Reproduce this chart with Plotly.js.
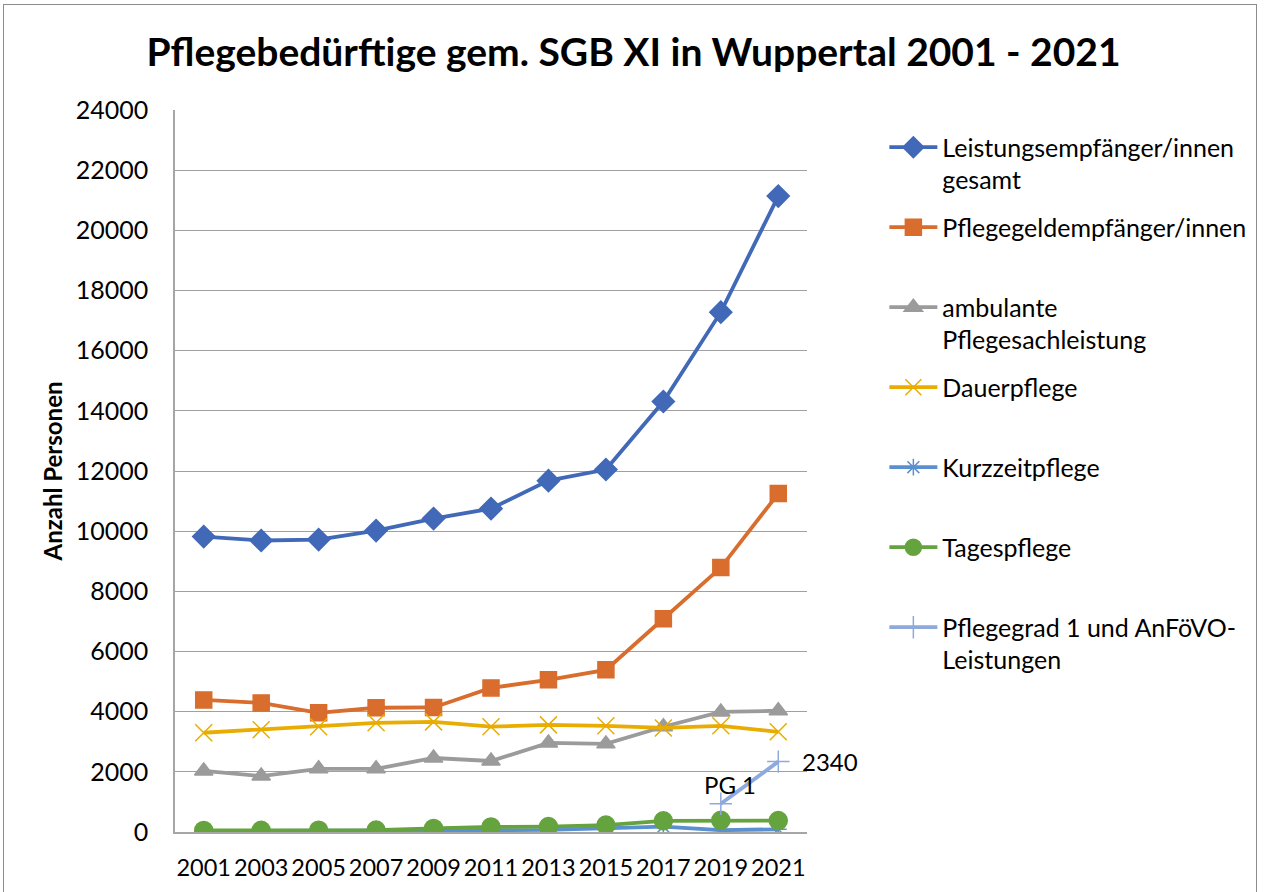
<!DOCTYPE html>
<html>
<head>
<meta charset="utf-8">
<script src="https://cdn.plot.ly/plotly-3.0.1.min.js"></script>
<style>
  html, body { margin: 0; padding: 0; background: #fff; }
  #chart { width: 1267px; height: 892px; }
  #frame { position: absolute; left: 3px; top: 4px; width: 1254px; height: 900px; border: 1px solid #8c8c8c; pointer-events: none; box-sizing: border-box; }
</style>
</head>
<body>
<div id="chart"></div>
<div id="frame"></div>
<script>
const years = ["2001", "2003", "2005", "2007", "2009", "2011", "2013", "2015", "2017", "2019", "2021"];
const seriesNames = [
  "Leistungsempfänger/innen<br>gesamt",
  "Pflegegeldempfänger/innen",
  "ambulante<br>Pflegesachleistung",
  "Dauerpflege",
  "Kurzzeitpflege",
  "Tagespflege",
  "Pflegegrad 1 und AnFöVO-<br>Leistungen"
];
const leistungGesamt = [9820, 9690, 9720, 10020, 10420, 10750, 11680, 12050, 14310, 17280, 21140];
const pflegegeld     = [4390, 4290, 3960, 4130, 4140, 4790, 5060, 5390, 7090, 8790, 11250];
const ambulant       = [2030, 1860, 2100, 2100, 2460, 2360, 2960, 2930, 3500, 3990, 4030];
const dauerpflege    = [3300, 3400, 3500, 3630, 3660, 3500, 3560, 3530, 3460, 3530, 3330];
const kurzzeit       = [30, 30, 40, 40, 50, 60, 70, 130, 180, 60, 90];
const tagespflege    = [50, 55, 60, 65, 120, 170, 180, 230, 370, 390, 380];
const pg1Years       = ["2019", "2021"];
const pg1            = [940, 2340];
const pg1Labels      = ["PG 1", "2340"];
const yTicks         = [0, 2000, 4000, 6000, 8000, 10000, 12000, 14000, 16000, 18000, 20000, 22000, 24000];

const FONT = "Lato, 'Open Sans', sans-serif";
const colors = ["#4169B8", "#D86D2D", "#9B9B9B", "#E8AD00", "#5A90CF", "#65A33E", "#8EA9DC"];
const symbols = ["diamond", "square", "triangle-up", "x-thin-open", "asterisk-open", "circle", "cross-thin-open"];
const sizes = [17, 16, 16, 17, 14, 18, 16];
const datasets = [leistungGesamt, pflegegeld, ambulant, dauerpflege, kurzzeit, tagespflege];

const traces = datasets.map((d, i) => ({
  type: "scatter", mode: "lines+markers",
  x: years, y: d,
  name: seriesNames[i].includes("<br>") ? seriesNames[i] : seriesNames[i] + "<br> ",
  legendgroup: "g" + i,
  line: { color: colors[i], width: 3.8 },
  marker: { symbol: symbols[i], size: sizes[i], color: colors[i], line: { color: colors[i], width: 1.5 } }
}));
traces.push({
  type: "scatter", mode: "lines+markers",
  x: pg1Years, y: pg1,
  name: seriesNames[6],
  legendgroup: "g6",
  line: { color: colors[6], width: 3.8 },
  marker: { symbol: symbols[6], size: 16, color: colors[6], line: { color: colors[6], width: 1.5 } }
});

const layout = {
  width: 1267, height: 892,
  paper_bgcolor: "#ffffff", plot_bgcolor: "#ffffff",
  margin: { l: 175, r: 460, t: 110, b: 60 },
  font: { family: FONT, color: "#000" },
  title: {
    text: "<b>Pflegebedürftige gem. SGB XI in Wuppertal 2001 - 2021</b>",
    font: { family: FONT, size: 39, color: "#000" },
    xref: "container", x: 0.5, xanchor: "center",
    yref: "container", y: 1 - 52 / 892, yanchor: "middle"
  },
  xaxis: {
    type: "category", range: [-0.5, 10.5],
    showgrid: false, zeroline: false,
    showline: true, linecolor: "#a6a6a6", linewidth: 1.5,
    ticks: "", ticklabelstandoff: 14, tickangle: 0,
    tickfont: { family: FONT, size: 23.5, color: "#000" }
  },
  yaxis: {
    range: [0, 24000], tickvals: yTicks, ticktext: yTicks.map(String),
    showgrid: true, gridcolor: "#a0a0a0", gridwidth: 1.3,
    zeroline: false, showline: true, linecolor: "#a6a6a6", linewidth: 1.5,
    ticks: "", ticklabelstandoff: 20,
    tickfont: { family: FONT, size: 25, color: "#000" },
    title: { text: "<b>Anzahl Personen</b>", font: { family: FONT, size: 24, color: "#000" }, standoff: 6 }
  },
  legend: {
    x: 1.1224, xanchor: "left", y: 0.98, yanchor: "top",
    font: { family: FONT, size: 25, color: "#000" },
    tracegroupgap: 12, valign: "top", itemwidth: 48,
    bgcolor: "rgba(0,0,0,0)"
  },
  annotations: [
    { xref: "x", yref: "y", x: years.indexOf(pg1Years[0]), y: pg1[0], text: pg1Labels[0], showarrow: false,
      xanchor: "center", yanchor: "bottom", xshift: 9, yshift: 3,
      font: { family: FONT, size: 24, color: "#000" } },
    { xref: "x", yref: "y", x: years.indexOf(pg1Years[1]), y: pg1[1], text: pg1Labels[1], showarrow: false,
      xanchor: "left", yanchor: "middle", xshift: 22,
      font: { family: FONT, size: 24, color: "#000" } }
  ],
  showlegend: true
};

Plotly.newPlot("chart", traces, layout, { displayModeBar: false, responsive: false });
</script>
</body>
</html>
